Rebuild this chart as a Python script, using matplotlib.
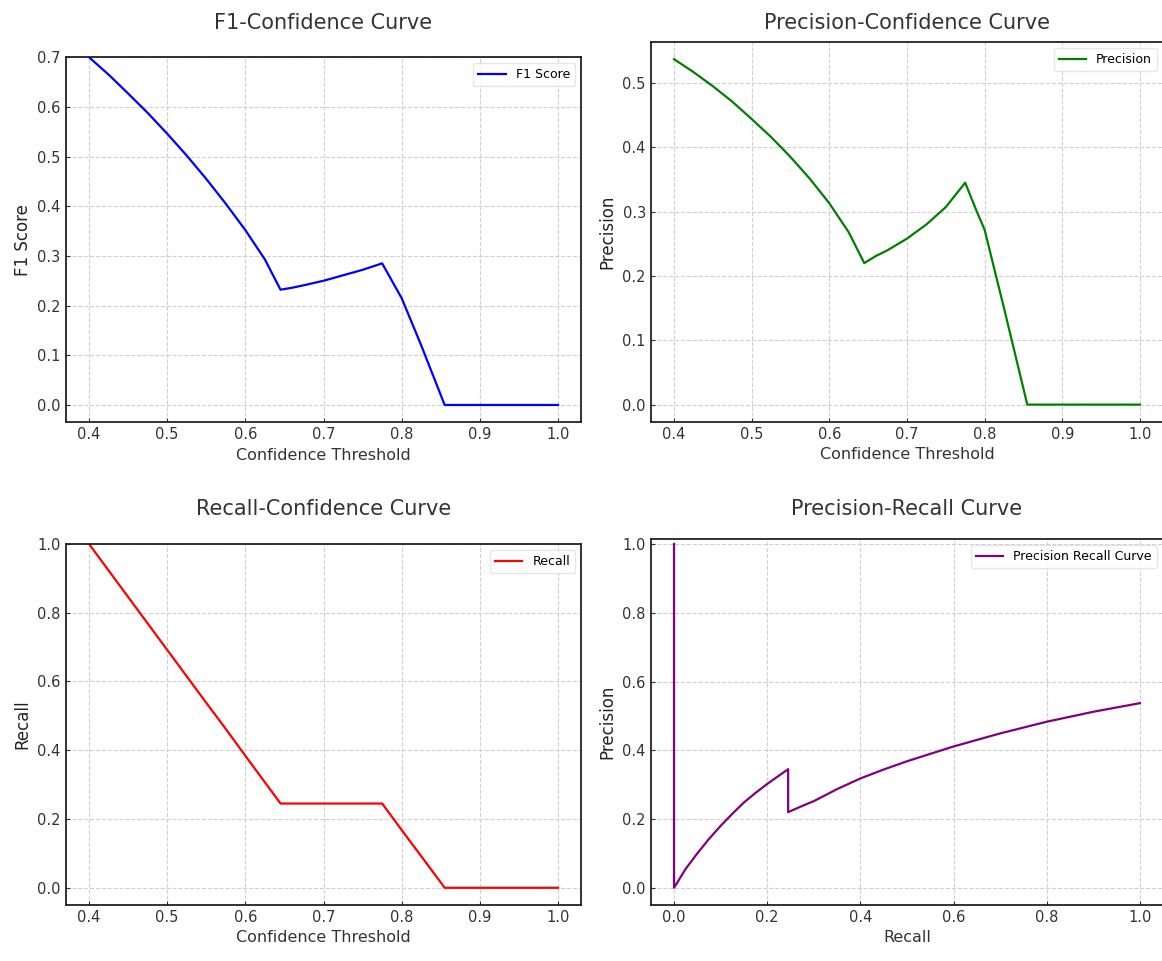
import matplotlib
matplotlib.use('Agg')
import matplotlib.pyplot as plt

# confidence thresholds at which the curves were read
thresholds = [0.40, 0.425, 0.45, 0.475, 0.50, 0.525, 0.55, 0.575, 0.60, 0.625, 0.645,
              0.66, 0.675, 0.70, 0.725, 0.75, 0.775, 0.79, 0.80, 0.825, 0.84, 0.855,
              0.90, 0.95, 1.00]

f1_scores = [0.700, 0.665, 0.627, 0.588, 0.546, 0.502, 0.455, 0.405, 0.352, 0.293, 0.232,
             0.236, 0.241, 0.250, 0.261, 0.272, 0.285, 0.243, 0.215, 0.120, 0.060, 0.0,
             0.0, 0.0, 0.0]
precision = [0.537, 0.517, 0.495, 0.471, 0.444, 0.416, 0.385, 0.351, 0.313, 0.268, 0.220,
             0.231, 0.240, 0.258, 0.280, 0.307, 0.345, 0.300, 0.272, 0.150, 0.075, 0.0,
             0.0, 0.0, 0.0]
recall = [1.000, 0.923, 0.846, 0.769, 0.692, 0.615, 0.538, 0.462, 0.384, 0.307, 0.245,
          0.245, 0.245, 0.245, 0.245, 0.245, 0.245, 0.199, 0.168, 0.092, 0.046, 0.0,
          0.0, 0.0, 0.0]

# precision-recall curve
pr_recall = [0.0, 0.0, 0.025, 0.05, 0.075, 0.10, 0.125, 0.15, 0.175, 0.20, 0.225, 0.245,
             0.245, 0.275, 0.30, 0.35, 0.40, 0.45, 0.50, 0.60, 0.70, 0.80, 0.90, 1.00]
pr_precision = [1.0, 0.0, 0.055, 0.100, 0.142, 0.180, 0.215, 0.248, 0.276, 0.302, 0.326, 0.345,
                0.220, 0.238, 0.252, 0.287, 0.318, 0.344, 0.368, 0.411, 0.449, 0.483, 0.512, 0.537]

plt.rcParams['font.family'] = 'DejaVu Sans'
plt.rcParams['xtick.direction'] = 'in'
plt.rcParams['ytick.direction'] = 'in'

fig = plt.figure(figsize=(11.62, 9.61), dpi=100)

ax1 = fig.add_axes([0.0564, 0.5605, 0.444, 0.380])
ax2 = fig.add_axes([0.560, 0.5609, 0.441, 0.3956])
ax3 = fig.add_axes([0.0564, 0.0583, 0.444, 0.3757])
ax4 = fig.add_axes([0.560, 0.0583, 0.441, 0.381])

panels = [
    (ax1, thresholds, f1_scores, 'blue', 'F1 Score', 'F1-Confidence Curve', 'Confidence Threshold', 'F1 Score', 20),
    (ax2, thresholds, precision, 'green', 'Precision', 'Precision-Confidence Curve', 'Confidence Threshold', 'Precision', 9),
    (ax3, thresholds, recall, 'red', 'Recall', 'Recall-Confidence Curve', 'Confidence Threshold', 'Recall', 21),
    (ax4, pr_recall, pr_precision, 'purple', 'Precision Recall Curve', 'Precision-Recall Curve', 'Recall', 'Precision', 17.5),
]

for ax, x, y, color, label, title, xlabel, ylabel, pad in panels:
    ax.plot(x, y, color=color, linewidth=1.6, label=label)
    ax.set_title(title, fontsize=15, pad=pad, color='#333333')
    ax.set_xlabel(xlabel, fontsize=11.5, color='#333333', labelpad=4)
    ax.set_ylabel(ylabel, fontsize=12, color='#222222', labelpad=4)
    ax.grid(True, linestyle='--', color='#d0d0d0', linewidth=0.8)
    ax.tick_params(labelsize=10.5, colors='#333333', length=3)
    ax.legend(loc='upper right', fontsize=9, frameon=True, edgecolor='#e0e0e0', handlelength=2.2)
    for s in ax.spines.values():
        s.set_linewidth(1.3)
        s.set_color('#222222')

# top of some panels is clipped in the original
ax1.set_ylim(-0.035, 0.70)
ax2.set_ylim(-0.027, 0.564)
ax3.set_ylim(-0.05, 1.0)
ax4.set_ylim(-0.05, 1.015)
ax4.set_xlim(-0.05, 1.05)

fig.savefig('out.png', dpi=100)
